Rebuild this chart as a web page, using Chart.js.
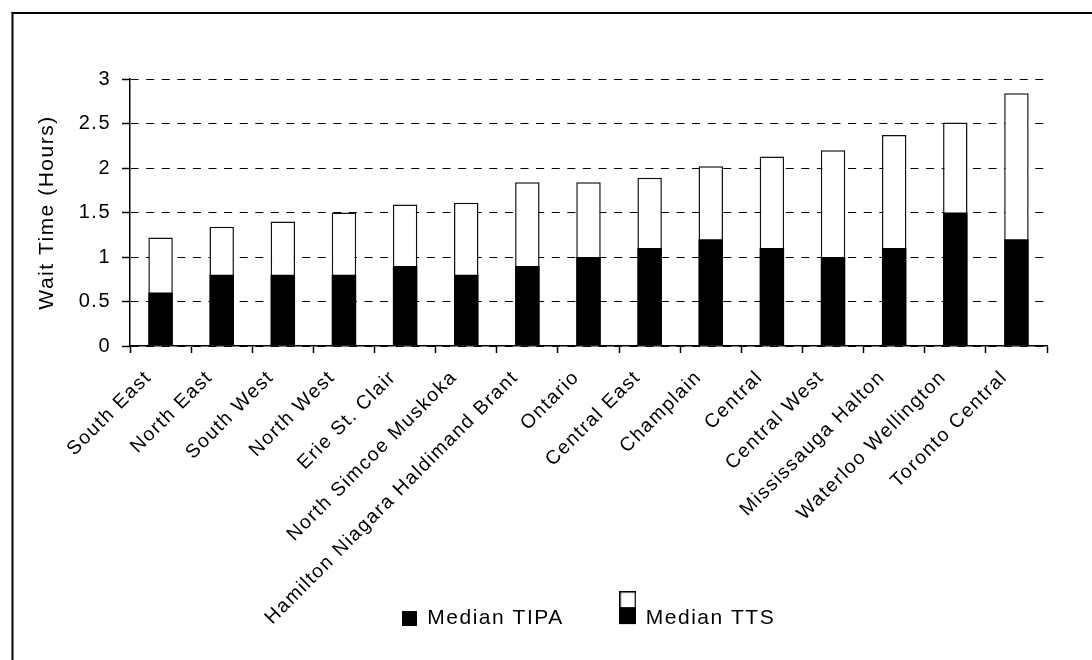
<!DOCTYPE html>
<html>
<head>
<meta charset="utf-8">
<title>Wait Time by LHIN</title>
<script src="https://cdn.jsdelivr.net/npm/chart.js@4.4.1/dist/chart.umd.min.js"></script>
<style>
  html, body { margin: 0; padding: 0; background: #fff; }
  #chart { display: block; }
</style>
</head>
<body>
<canvas id="chart" width="1092" height="660"></canvas>
<script>
// Regions, ordered by median total time
const regions = [
  'South East', 'North East', 'South West', 'North West', 'Erie St. Clair',
  'North Simcoe Muskoka', 'Hamilton Niagara Haldimand Brant', 'Ontario',
  'Central East', 'Champlain', 'Central', 'Central West',
  'Mississauga Halton', 'Waterloo Wellington', 'Toronto Central'
];

// Median time to initial physician assessment (hours)
const medianTIPA = [0.6, 0.8, 0.8, 0.8, 0.9, 0.8, 0.9, 1.0, 1.1, 1.2, 1.1, 1.0, 1.1, 1.5, 1.2];

// Median total time spent (hours)
const medianTTS = [1.22, 1.34, 1.40, 1.50, 1.59, 1.61, 1.84, 1.84, 1.89, 2.02, 2.13, 2.20, 2.37, 2.51, 2.84];

const seriesNames = ['Median TIPA', 'Median TTS'];
const yTicks = { min: 0, max: 3, step: 0.5 };
const yTitle = 'Wait Time (Hours)';

const FONT = '"Liberation Sans", Arial, sans-serif';
const TRACKING = '1.5px';

// Legend swatches: a plain black square and a white-over-black block
function squareSwatch() {
  const c = document.createElement('canvas');
  c.width = 15; c.height = 15;
  const g = c.getContext('2d');
  g.fillStyle = '#000';
  g.fillRect(0, 0, 15, 15);
  return c;
}
function stackedSwatch() {
  const c = document.createElement('canvas');
  c.width = 17; c.height = 54;
  const g = c.getContext('2d');
  g.fillStyle = '#000';
  g.fillRect(0, 0, 17, 33);
  g.fillStyle = '#fff';
  g.fillRect(1.5, 1.5, 14, 14.5);
  return c;
}
const swatches = [squareSwatch(), stackedSwatch()];

// Frame lines, white page and wider letter spacing for all text
const pageFrame = {
  id: 'pageFrame',
  beforeUpdate(chart) { chart.ctx.letterSpacing = TRACKING; },
  afterLayout(chart) {
    // let the long rotated region names run down past the legend row
    chart.scales.x.bottom = chart.height;
  },
  beforeDraw(chart) {
    const ctx = chart.ctx;
    ctx.letterSpacing = TRACKING;
    ctx.save();
    ctx.fillStyle = '#fff';
    ctx.fillRect(0, 0, chart.width, chart.height);
    ctx.fillStyle = '#000';
    ctx.fillRect(11.5, 12, 2, chart.height);
    ctx.fillRect(11.5, 12, chart.width, 2);
    ctx.restore();
  }
};

new Chart(document.getElementById('chart'), {
  type: 'bar',
  data: {
    labels: regions,
    datasets: [
      {
        label: seriesNames[0],
        data: medianTIPA,
        backgroundColor: '#000',
        borderColor: '#000',
        borderWidth: 0,
        grouped: false,
        barPercentage: 0.4,
        categoryPercentage: 1
      },
      {
        label: seriesNames[1],
        data: medianTTS,
        backgroundColor: '#fff',
        borderColor: '#111',
        borderWidth: 1.5,
        grouped: false,
        barPercentage: 0.4,
        categoryPercentage: 1
      }
    ]
  },
  options: {
    responsive: false,
    animation: false,
    devicePixelRatio: 1,
    layout: { padding: { left: 31, top: 79, right: 45, bottom: 21.4 } },
    plugins: {
      tooltip: { enabled: false },
      legend: {
        position: 'bottom',
        fullSize: false,
        labels: {
          usePointStyle: true,
          boxWidth: 15,
          boxHeight: 15,
          padding: 56.6,
          color: '#000',
          font: { family: FONT, size: 21 },
          generateLabels(chart) {
            const items = Chart.defaults.plugins.legend.labels.generateLabels(chart);
            items.forEach((it, i) => { it.pointStyle = swatches[i]; });
            return items;
          }
        }
      }
    },
    scales: {
      x: {
        afterFit(scale) { scale.height = 205; },
        grid: {
          offset: true,
          drawOnChartArea: false,
          drawTicks: true,
          tickLength: 7,
          tickColor: '#000',
          tickWidth: 1.5
        },
        border: { display: true, color: '#000', width: 1.5 },
        ticks: {
          autoSkip: false,
          minRotation: 45,
          maxRotation: 45,
          padding: 13,
          labelOffset: -12,
          color: '#000',
          font: { family: FONT, size: 19.5 }
        }
      },
      y: {
        min: yTicks.min,
        max: yTicks.max,
        afterFit(scale) { scale.width = 99; },
        grid: {
          color: '#000',
          lineWidth: 1,
          drawTicks: true,
          tickLength: 8,
          tickColor: '#000',
          tickWidth: 1.5,
          tickBorderDash: []
        },
        border: { display: true, color: '#000', width: 1.5, dash: [8, 7.6] },
        ticks: {
          stepSize: yTicks.step,
          padding: 11,
          color: '#000',
          font: { family: FONT, size: 20 },
          callback: (value) => String(Number(value))
        },
        title: {
          display: true,
          text: yTitle,
          color: '#000',
          padding: { top: 4, bottom: 4 },
          font: { family: FONT, size: 21 }
        }
      }
    }
  },
  plugins: [pageFrame]
});
</script>
</body>
</html>
